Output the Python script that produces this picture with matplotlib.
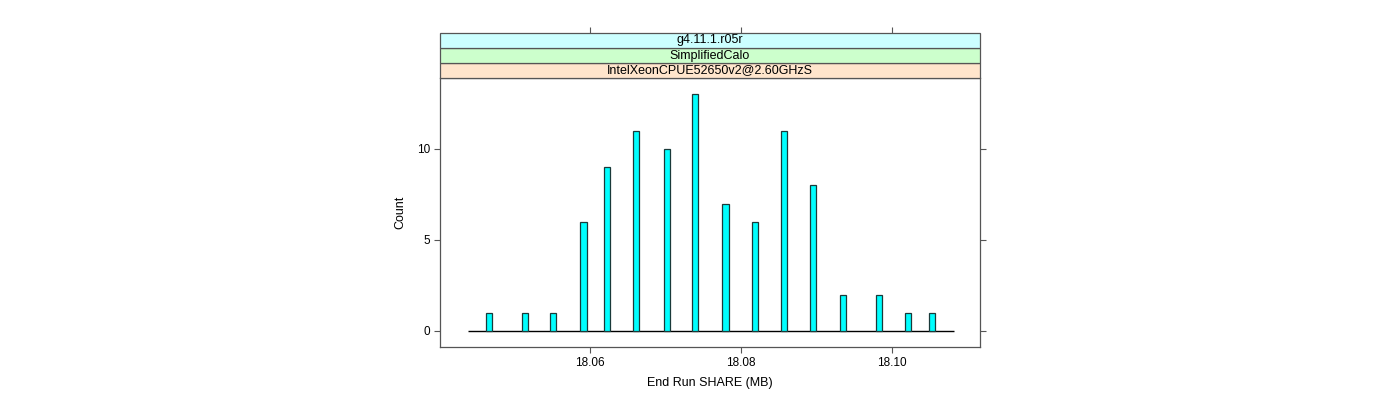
import matplotlib

matplotlib.use("Agg")
import matplotlib.pyplot as plt
from matplotlib.patches import Rectangle

# values
share_mb = [18.0467, 18.0514, 18.0552, 18.0592, 18.0623, 18.0662, 18.0702, 18.0740,
            18.0780, 18.0819, 18.0858, 18.0896, 18.0936, 18.0983, 18.1022, 18.1054]
counts = [1, 1, 1, 6, 9, 11, 10, 13, 7, 6, 11, 8, 2, 2, 1, 1]
baseline_range = (18.0439, 18.1082)
x_ticks = [18.06, 18.08, 18.10]
x_ticklabels = ["18.06", "18.08", "18.10"]
y_ticks = [0, 5, 10]
strip_labels = ["g4.11.1.r05r", "SimplifiedCalo", "IntelXeonCPUE52650v2@2.60GHzS"]
strip_colors = ["#ccffff", "#ccffcc", "#ffe5cc"]

plt.rcParams["font.family"] = ["Liberation Sans", "DejaVu Sans"]
FRAME = "#555555"

fig = plt.figure(figsize=(14, 4), dpi=100)
ax = fig.add_axes([440 / 1400, 1 - 347 / 400, 540 / 1400, 269 / 400])

ax.hlines(0, *baseline_range, color="black", linewidth=1.0, zorder=1)
ax.bar(share_mb, counts, width=0.0008, color="#00ffff", edgecolor="#1a3a3a",
       linewidth=0.9, zorder=2)

ax.set_xlim(18.0402, 18.1117)
ax.set_ylim(-0.88, 13.9)
ax.set_xticks(x_ticks)
ax.set_xticklabels(x_ticklabels)
ax.set_yticks(y_ticks)
ax.tick_params(axis="both", direction="out", length=4, width=0.8, color=FRAME,
               labelsize=8.5, pad=3, top=True, right=True, labeltop=False, labelright=False)
for s in ax.spines.values():
    s.set_color(FRAME)
    s.set_linewidth(0.9)
ax.set_xlabel("End Run SHARE (MB)", fontsize=9, labelpad=6)
ax.set_ylabel("Count", fontsize=9, labelpad=8)

# lattice-style strips above the panel
strip_h = 15 / 400
top = 1 - 78 / 400
left, width = 440 / 1400, 540 / 1400
for i, (label, col) in enumerate(zip(reversed(strip_labels), reversed(strip_colors))):
    y0 = top + i * strip_h
    fig.patches.append(Rectangle((left, y0), width, strip_h, transform=fig.transFigure,
                                 facecolor=col, edgecolor=FRAME, linewidth=0.9))
    fig.text(left + width / 2, y0 + strip_h / 2, label, ha="center", va="center", fontsize=9)

# top ticks sit above the strips
sax = fig.add_axes([left, top, width, 3 * strip_h], sharex=ax)
sax.patch.set_visible(False)
for s in sax.spines.values():
    s.set_visible(False)
sax.set_yticks([])
sax.tick_params(axis="x", bottom=False, labelbottom=False, top=True, direction="out",
                length=4, width=0.8, color=FRAME)

fig.savefig("out.png", dpi=100)
